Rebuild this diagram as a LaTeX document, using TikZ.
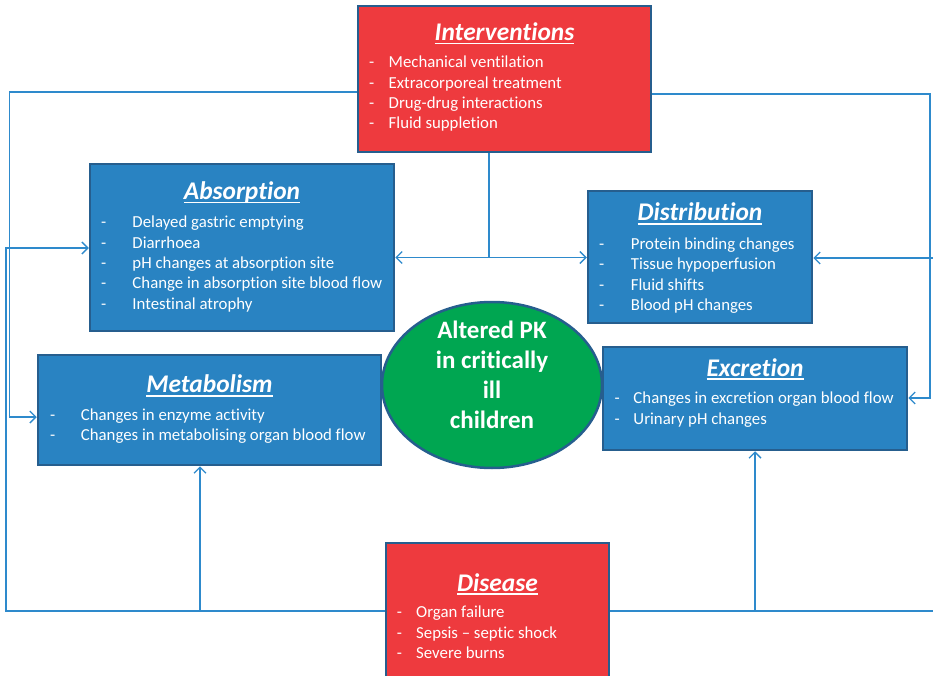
\documentclass[tikz,border=0pt]{standalone}
\usepackage{fontspec}
\setmainfont{Carlito}[Ligatures={TeX,NoCommon}]
\usetikzlibrary{arrows.meta,shapes.geometric}
\definecolor{pkblue}{RGB}{41,131,194}
\definecolor{pkred}{RGB}{238,58,62}
\definecolor{pkgreen}{RGB}{0,166,81}
\definecolor{pkedge}{RGB}{38,94,142}
\definecolor{pkline}{RGB}{46,138,204}
\newcommand\boxtitle[1]{\setbox0\hbox{#1}\rlap{\vrule width\wd0 height -2.4pt depth 4.2pt}\box0}
\tikzset{
  bluebox/.style={draw=pkedge,line width=2.5pt,fill=pkblue,inner sep=0pt},
  redbox/.style={bluebox,fill=pkred},
  core/.style={ellipse,draw=pkedge,line width=2.5pt,fill=pkgreen,minimum width=220pt,minimum height=166pt},
  title/.style={anchor=base,inner sep=0pt,text=white,font=\fontsize{25.4}{28}\selectfont\bfseries\itshape},
  list/.style={anchor=north west,inner sep=0pt,text=white,font=\fontsize{16.8}{20.3}\selectfont},
  coretext/.style={anchor=north,inner sep=0pt,text=white,font=\fontsize{25}{30}\selectfont\bfseries},
  wire/.style={draw=pkline,line width=1.3pt},
  flow/.style={wire,-{Straight Barb[length=6pt,width=12pt]}}
}
\begin{document}
\begin{tikzpicture}[x=1pt,y=-1pt]
  \clip (0,0) rectangle (933,676);
  \coordinate (TL) at (9.5,92);
  \coordinate (ML) at (9.5,417);
  \coordinate (TR) at (930,94);
  \coordinate (ER) at (930,398);
  \coordinate (Hub) at (489,257.5);
  \coordinate (BL) at (6,611);
  \coordinate (AL) at (6,248);
  \coordinate (MB) at (200,611);
  \coordinate (EB) at (755,611);
  \coordinate (BR) at (940,611);
  \coordinate (DR) at (940,258);

  \node[redbox,minimum width=293pt,minimum height=146pt] (interv) at (504.5,79) {};
  \node[bluebox,minimum width=304pt,minimum height=167pt] (absorp) at (242,247.5) {};
  \node[bluebox,minimum width=224pt,minimum height=132pt] (distr) at (700,257) {};
  \node[bluebox,minimum width=343pt,minimum height=110pt] (metab) at (209.5,410) {};
  \node[bluebox,minimum width=304pt,minimum height=103pt] (excr) at (755,398.5) {};
  \node[redbox,minimum width=223pt,minimum height=160pt] (disease) at (497.5,623) {};
  \node[core] (pk) at (492,385) {};

  \node[title] (interv-title) at (504.5,40.3) {\boxtitle{Interventions}};
  \node[title] (absorp-title) at (242,199.3) {\boxtitle{Absorption}};
  \node[title] (distr-title) at (700,221) {\boxtitle{Distribution}};
  \node[title] (metab-title) at (209.5,392.7) {\boxtitle{Metabolism}};
  \node[title] (excr-title) at (755,376) {\boxtitle{Excretion}};
  \node[title] (disease-title) at (497.5,591) {\boxtitle{Disease}};

  \node[list] (interv-items) at (369,53.3) {\begin{tabular}{@{}p{19.5pt}@{}l@{}}
    -&Mechanical ventilation\\-&Extracorporeal treatment\\-&Drug-drug interactions\\-&Fluid suppletion
  \end{tabular}};
  \node[list] (absorp-items) at (101,213.5) {\begin{tabular}{@{}p{31.3pt}@{}l@{}}
    -&Delayed gastric emptying\\-&Diarrhoea\\-&pH changes at absorption site\\-&Change in absorption site blood flow\\-&Intestinal atrophy
  \end{tabular}};
  \node[list] (distr-items) at (599,235) {\begin{tabular}{@{}p{31.7pt}@{}l@{}}
    -&Protein binding changes\\-&Tissue hypoperfusion\\-&Fluid shifts\\-&Blood pH changes
  \end{tabular}};
  \node[list] (metab-items) at (50,405.8) {\begin{tabular}{@{}p{30.7pt}@{}l@{}}
    -&Changes in enzyme activity\\-&Changes in metabolising organ blood flow
  \end{tabular}};
  \node[list] (excr-items) at (614.3,389.5) {\begin{tabular}{@{}p{19pt}@{}l@{}}
    -&Changes in excretion organ blood flow\\-&Urinary pH changes
  \end{tabular}};
  \node[list] (disease-items) at (396.7,603.5) {\begin{tabular}{@{}p{19.3pt}@{}l@{}}
    -&Organ failure\\-&Sepsis -- septic shock\\-&Severe burns
  \end{tabular}};
  \node[coretext] (pk-text) at (492,317.7) {\begin{tabular}{@{}c@{}}
    Altered PK\\in critically\\ill\\children
  \end{tabular}};

  \draw[flow] (interv.west |- TL) -| (ML) -- (metab.west |- ML);
  \draw[flow] (interv.east |- TR) -| (ER) -- (excr.east |- ER);
  \draw[wire] (interv.south -| Hub) -- (Hub);
  \draw[flow] (Hub) -- (absorp.east |- Hub);
  \draw[flow] (Hub) -- (distr.west |- Hub);
  \draw[flow] (disease.west |- BL) -- (BL) -- (AL) -- (absorp.west |- AL);
  \draw[flow] (MB) -- (metab.south -| MB);
  \draw[flow] (EB) -- (excr.south -| EB);
  \draw[flow] (disease.east |- BR) -- (BR) -- (DR) -- (distr.east |- DR);
\end{tikzpicture}
\end{document}
